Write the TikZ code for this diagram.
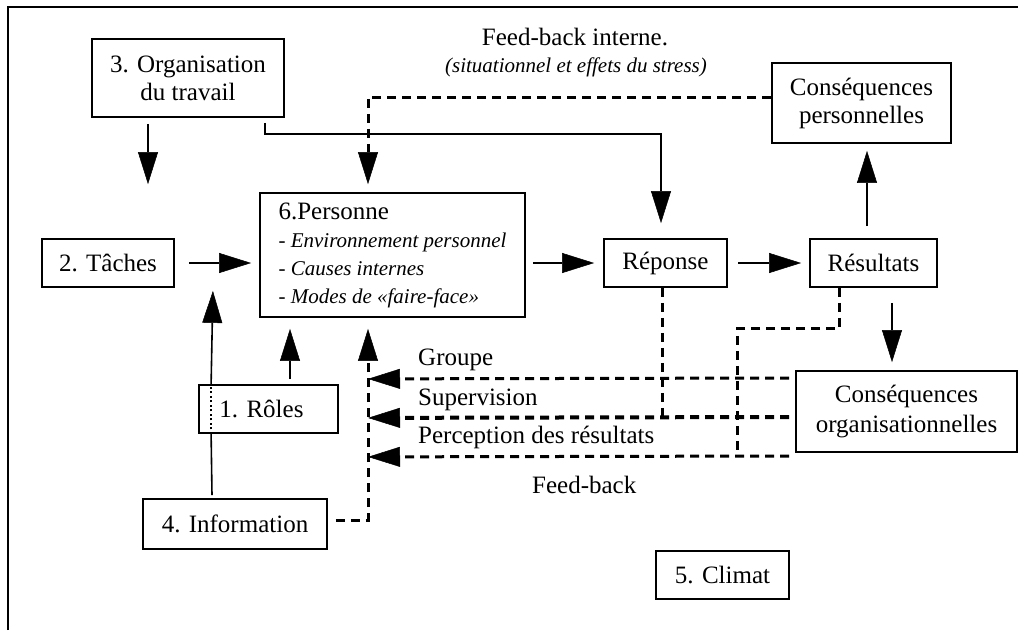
\documentclass[tikz,border=0pt]{standalone}
\usepackage{fontspec}
\setmainfont{Liberation Serif}
\usetikzlibrary{arrows.meta}
\begin{document}
\begin{tikzpicture}[x=1pt,y=-1pt,
  box/.style={draw,line width=1.8pt,inner sep=0pt,align=center,font=\fontsize{25}{28}\selectfont},
  ln/.style={line width=1.6pt},
  tip/.style={-{Triangle[length=32pt,width=20pt,line width=0.5pt]}},
  arr/.style={ln,tip},
  dln/.style={line width=3pt,dash pattern=on 9pt off 6pt},
  darr/.style={dln,tip},
  lbl/.style={inner sep=0pt,anchor=base west,font=\fontsize{25}{28}\selectfont}]
\useasboundingbox (0,0) rectangle (1018,630);
\draw[line width=1.8pt] (8,630) -- (8,7) -- (1018,7);

\node[box,minimum width=192pt,minimum height=78pt] (org) at (188,78) {3. Organisation\\du travail};
\node[box,minimum width=132pt,minimum height=48pt] (taches) at (108,263) {2. Tâches};
\node[box,minimum width=265pt,minimum height=124pt,align=left] (pers) at (392.5,255)
  {\fontsize{25}{25.5}\selectfont 6.Personne\\
   \fontsize{21}{25.5}\selectfont - \textit{Environnement personnel}\\
   \fontsize{21}{25.5}\selectfont - \textit{Causes internes}\\
   \fontsize{21}{25.5}\selectfont - \textit{Modes de «faire-face»}};
\node[box,minimum width=123pt,minimum height=48pt] (rep) at (665.5,263) {Réponse};
\node[box,minimum width=127pt,minimum height=48pt] (res) at (873.5,263) {Résultats};
\node[box,minimum width=179pt,minimum height=80pt] (cpers) at (861.5,103) {Conséquences\\personnelles};
\node[box,minimum width=139pt,minimum height=48pt] (roles) at (268.5,409) {1. Rôles\hspace*{14pt}};
\node[box,minimum width=184pt,minimum height=50pt] (info) at (235,524) {4. Information};
\node[box,minimum width=221pt,minimum height=81pt,font=\fontsize{25}{30}\selectfont] (corg) at (906.5,411.5) {Conséquences\\organisationnelles};
\node[box,minimum width=133pt,minimum height=48pt] (climat) at (722.5,575) {5. Climat};

\node[inner sep=0pt,anchor=base,font=\fontsize{25}{28}\selectfont] (fbi) at (575,45) {Feed-back interne.};
\node[inner sep=0pt,anchor=base,font=\fontsize{21}{25}\selectfont\itshape] (fbis) at (576,72) {(situationnel et effets du stress)};
\node[lbl] (grp) at (418,365) {Groupe};
\node[lbl] (sup) at (418,405) {Supervision};
\node[lbl] (perc) at (418,443) {Perception des résultats};
\node[lbl] (fb) at (532,493) {Feed-back};

% solid connectors
\draw[arr] ([xshift=-40pt,yshift=-6pt]org.south) -- ([xshift=40pt,yshift=54pt]taches.north);
\draw[arr] ([xshift=-20pt,yshift=-5pt]org.south east) -- ++(0,11) -| ([xshift=-4.5pt,yshift=15pt]rep.north);
\draw[arr] ([xshift=14pt]taches.east) -- ([xshift=-8pt,yshift=-8pt]pers.west);
\draw[arr] ([xshift=7pt,yshift=-8pt]pers.east) -- ([xshift=-9pt]rep.west);
\draw[arr] ([xshift=10.5pt]rep.east) -- ([xshift=-8pt]res.west);
\draw[arr] ([xshift=-6.5pt,yshift=12pt]res.north) -- ([xshift=5.5pt,yshift=-7pt]cpers.south);
\draw[arr] ([xshift=18.5pt,yshift=-15pt]res.south) -- ([xshift=-14.5pt,yshift=8pt]corg.north);
\draw[ln] ([xshift=-23pt,yshift=3pt]info.north) -- ([xshift=13pt]roles.south west);
\draw[line width=2pt,dash pattern=on 2pt off 2.5pt] ([xshift=13pt]roles.south west) -- ([xshift=13pt]roles.north west);
\draw[arr] ([xshift=13pt]roles.north west) -- ([xshift=38pt,yshift=-3pt]taches.south east);
\draw[arr] ([xshift=21.5pt,yshift=5pt]roles.north) -- ([xshift=-102.5pt,yshift=-11pt]pers.south);

% dashed connectors
\draw[darr] ([yshift=6pt]cpers.west) -| ([xshift=-24.5pt,yshift=8pt]pers.north);
\draw[darr] ([xshift=8pt,yshift=4pt]info.east) -| ([xshift=-24.5pt,yshift=-11pt]pers.south);
\draw[darr] ([xshift=-6pt,yshift=33.5pt]corg.west) -- ([xshift=-24.5pt,yshift=-61pt]pers.south);
\draw[darr,line width=4pt] ([xshift=-6pt,yshift=-5.5pt]corg.west) -- ([xshift=-24.5pt,yshift=-100pt]pers.south);
\draw[darr] ([xshift=-6pt,yshift=-44.5pt]corg.west) -- ([xshift=-24.5pt,yshift=-139pt]pers.south);
\draw[dln] ([xshift=-3.5pt]rep.south) -- ++(0,130);
\draw[dln] ([xshift=-34.5pt]res.south) -- ++(0,41) -| ++(-102,128);
\end{tikzpicture}
\end{document}
